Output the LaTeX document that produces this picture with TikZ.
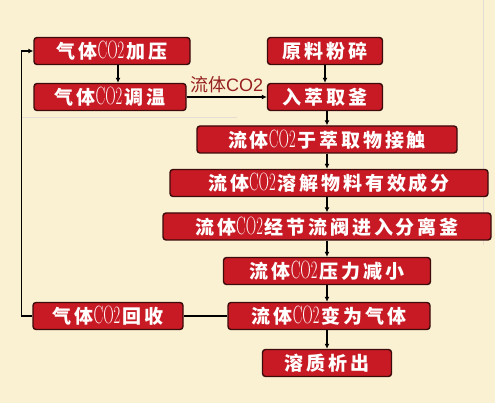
\documentclass[tikz,border=0pt]{standalone}
\usepackage{fontspec}
\usetikzlibrary{arrows.meta}
\newfontfamily\cjkfont[LetterSpace=15]{Noto Sans CJK SC}
\newfontfamily\labelfont{Noto Sans CJK SC}
\newfontfamily\labelsans{Liberation Sans}
\newfontfamily\cofont[FakeStretch=0.58]{Latin Modern Roman}
\newcommand{\cotwo}{{\cofont\mdseries\fontsize{25}{25}\selectfont CO2}\hspace{2pt}}
\definecolor{paper}{RGB}{250,240,210}
\definecolor{faint}{RGB}{228,222,210}
\definecolor{boxred}{RGB}{200,26,36}
\definecolor{boxedge}{RGB}{60,12,12}
\definecolor{labelred}{RGB}{150,32,32}
\begin{document}
\begin{tikzpicture}[x=1pt,y=-1pt,
    procbox/.style={draw=boxedge,line width=1.4pt,fill=boxred,rounded corners=3pt,
        text=white,font=\cjkfont\bfseries\fontsize{19}{19}\selectfont,
        minimum height=27pt,inner sep=0pt},
    flow/.style={-{Latex[length=5pt,width=5pt]},line width=1.2pt},
    link/.style={line width=1.2pt}]
    \fill[paper] (0,0) rectangle (495,403);
    \useasboundingbox (0,0) rectangle (495,403);
    \draw[faint,line width=0.8pt] (483,0) -- (483,245);
    \draw[faint,line width=0.8pt] (22,117) -- (237,117);

    \node[procbox,minimum width=156pt] (jiaya) at (112,51) {气体\cotwo 加压};
    \node[procbox,minimum width=152pt] (tiaowen) at (110,97) {气体\cotwo 调温};
    \node[procbox,minimum width=115pt] (fensui) at (325,51) {原料粉碎};
    \node[procbox,minimum width=115pt] (ruqu) at (325,97) {入萃取釜};
    \node[procbox,minimum width=260pt] (jiechu) at (327,139.5) {流体\cotwo 于萃取物接触};
    \node[procbox,minimum width=318pt] (rongjie) at (329,183) {流体\cotwo 溶解物料有效成分};
    \node[procbox,minimum width=328pt] (jieliu) at (327,226.5) {流体\cotwo 经节流阀进入分离釜};
    \node[procbox,minimum width=207pt] (jianxiao) at (327,271) {流体\cotwo 压力减小};
    \node[procbox,minimum width=202pt] (bianqi) at (329,316) {流体\cotwo 变为气体};
    \node[procbox,minimum width=129pt] (xichu) at (327,363) {溶质析出};
    \node[procbox,minimum width=150pt] (huishou) at (108,316) {气体\cotwo 回收};

    \draw[flow] ([xshift=6pt]jiaya.south) -- ([xshift=6pt]jiaya.south |- tiaowen.north);
    \draw[flow] (fensui.south) -- (ruqu.north);
    \draw[flow] ([xshift=2pt]ruqu.south) -- ([xshift=2pt]ruqu.south |- jiechu.north);
    \draw[flow] (jiechu.south) -- (jiechu.south |- rongjie.north);
    \draw[flow] (rongjie.south -| jiechu.south) -- (jiechu.south |- jieliu.north);
    \draw[flow] (jieliu.south) -- (jianxiao.north);
    \draw[flow] (jianxiao.south) -- (jianxiao.south |- bianqi.north);
    \draw[flow] (bianqi.south -| xichu.north) -- (xichu.north);
    \draw[flow] (tiaowen.east) -- (ruqu.west)
        node[midway,above=0pt,text=labelred,font=\labelfont\fontsize{18}{18}\selectfont]
        {流体{\labelsans CO2}};
    \draw[link] (bianqi.west) -- (huishou.east);
    \draw[flow] (huishou.west) -- ++(-11,0) |- (jiaya.west);
\end{tikzpicture}
\end{document}
